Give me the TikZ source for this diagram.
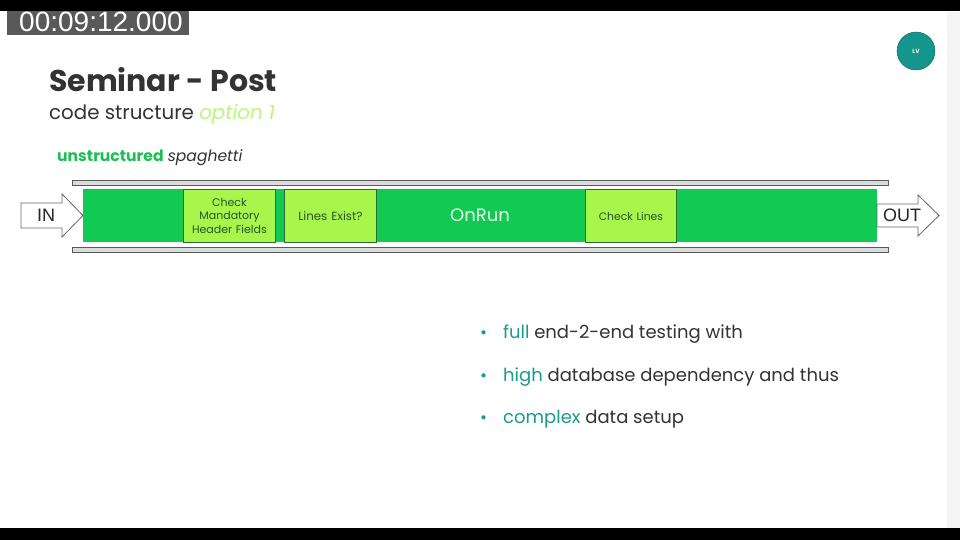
\documentclass[tikz,border=0pt]{standalone}
\usepackage{fontspec}
\setmainfont{Poppins}
\newfontfamily\arialfont{Liberation Sans}
\usetikzlibrary{positioning}
\definecolor{maingreen}{HTML}{12C953}
\definecolor{boxgreen}{HTML}{A8F54B}
\definecolor{boxedge}{HTML}{2E6B34}
\definecolor{barfill}{HTML}{D9DCDA}
\definecolor{titlegray}{HTML}{333333}
\definecolor{optgreen}{HTML}{B9F77E}
\definecolor{unstrgreen}{HTML}{1DBF55}
\definecolor{tealc}{HTML}{1A9A8A}
\definecolor{lvfill}{HTML}{15968C}
\definecolor{lvedge}{HTML}{0E5E57}
\definecolor{onruntext}{HTML}{E4FBE6}
\tikzset{
  bar/.style={draw=black!65, fill=barfill, line width=0.8pt},
  stepbox/.style={draw=boxedge, fill=boxgreen, line width=0.9pt, anchor=north west,
    minimum height=53pt, inner sep=1pt, align=center, text=boxedge!80!black, font=\fontsize{11}{13.5}\selectfont},
  bigarrow/.style={draw=black!60, fill=white, line width=0.8pt, line join=miter},
  arrowtext/.style={font=\arialfont\fontsize{18}{18}\selectfont, text=black!85, inner sep=0pt},
  bullettext/.style={anchor=base west, inner sep=0pt, font=\fontsize{18}{21}\selectfont, text=titlegray},
}
\begin{document}
\begin{tikzpicture}[x=1pt,y=-1pt]
\useasboundingbox (0,0) rectangle (960,540);
\fill[white] (0,0) rectangle (960,540);
\fill[black!4] (947,12) rectangle (960,528);
\fill[black] (0,0) rectangle (960,11);
\fill[black] (0,528) rectangle (960,540);
% timestamp
\fill[black!65] (7,11) rectangle (189,35);
\node[anchor=base west, inner sep=0pt, text=white, font=\arialfont\fontsize{28}{28}\selectfont] (ts) at (19,31.5) {00:09:12.000};
% LV badge
\node[circle, draw=lvedge, fill=lvfill, minimum size=38pt, inner sep=0pt, text=white!90!lvfill, font=\fontsize{6}{6}\selectfont\bfseries] (lv) at (916,51) {LV};
% titles
\node[anchor=base west, inner sep=0pt, text=titlegray, font=\fontsize{30}{32}\selectfont\bfseries] (title) at (49,92) {Seminar - Post};
\node[anchor=base west, inner sep=0pt, text=titlegray, font=\fontsize{19.8}{22}\selectfont] (sub) at (49,120) {code structure \textcolor{optgreen}{\itshape option 1}};
\node[anchor=base west, inner sep=0pt, text=titlegray, font=\fontsize{15.6}{19}\selectfont] (kind) at (57,161) {\textcolor{unstrgreen}{\bfseries unstructured} \itshape spaghetti};
% bars
\draw[bar] (72,180) rectangle (888,185);
\draw[bar] (72,247) rectangle (888,252);
% main green rect
\node[fill=maingreen, anchor=north west, minimum width=794pt, minimum height=53pt, inner sep=0pt] (main) at (83,189) {};
\node[text=onruntext, font=\fontsize{18}{18}\selectfont, inner sep=0pt] (onrun) at (480,215) {OnRun};
% step boxes
\node[stepbox, minimum width=92pt, text width=88pt] (cmhf) at (183,189) {Check\\Mandatory\\Header Fields};
\node[stepbox, minimum width=92pt, text width=88pt, font=\fontsize{11.8}{13}\selectfont] (lines) at (284,189) {Lines Exist?};
\node[stepbox, minimum width=91pt, text width=87pt, font=\fontsize{10.8}{13}\selectfont] (check) at (585,189) {Check Lines};
% IN arrow
\draw[bigarrow] (21,203) -- (62,203) -- (62,194) -- (83,215.5) -- (62,237) -- (62,228) -- (21,228) -- cycle;
\node[arrowtext] (in) at (46,215.5) {IN};
% OUT arrow
\draw[bigarrow] (877,204) -- (918,204) -- (918,195) -- (939,215.5) -- (918,236) -- (918,227) -- (877,227) -- cycle;
\node[arrowtext] (out) at (902,215.5) {OUT};
% bullets
\foreach \y/\n in {338/b1,381/b2,423/b3}{
  \node[anchor=base west, inner sep=0pt, text=tealc, font=\fontsize{17}{20}\selectfont] (\n) at (480,\y) {\textbullet};
}
\node[bullettext] (t1) at (503,338) {\textcolor{tealc}{full} end-2-end testing with};
\node[bullettext] (t2) at (503,381) {\textcolor{tealc}{high} database dependency and thus};
\node[bullettext] (t3) at (503,423) {\textcolor{tealc}{complex} data setup};
\end{tikzpicture}
\end{document}
